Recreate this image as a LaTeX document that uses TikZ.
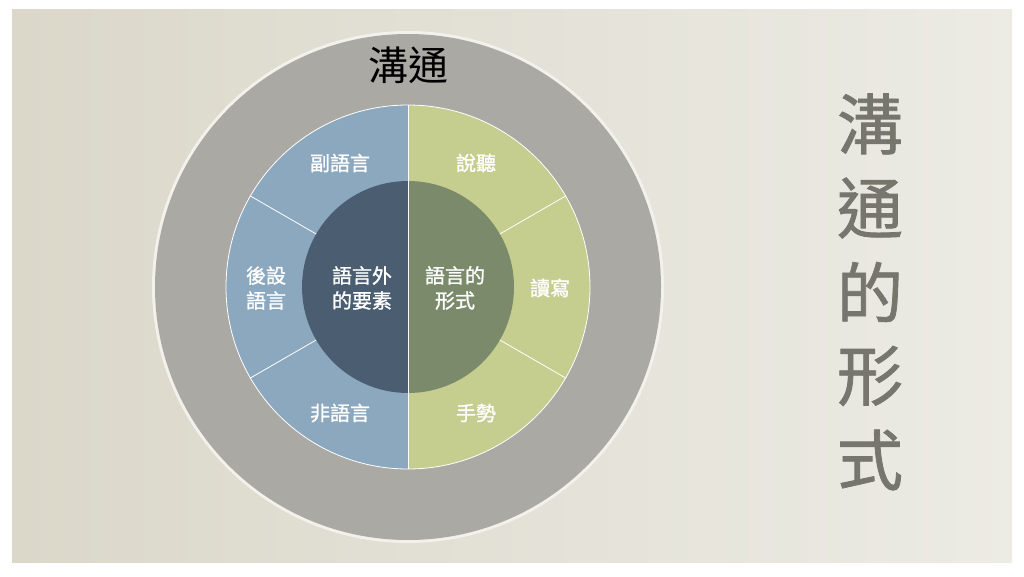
\documentclass[tikz,border=0pt]{standalone}
\usepackage{fontspec}
\newfontfamily\cjk{Noto Sans CJK TC}
\newfontfamily\cjkheavy[FakeBold=1.2]{Noto Sans CJK TC}
\usetikzlibrary{positioning}

\definecolor{paperdark}{RGB}{219,216,202}
\definecolor{paperlight}{RGB}{236,235,228}
\definecolor{rimwhite}{RGB}{242,241,236}
\definecolor{ringgray}{RGB}{170,169,164}
\definecolor{ringblue}{RGB}{139,168,190}
\definecolor{ringgreen}{RGB}{197,205,143}
\definecolor{coreblue}{RGB}{75,93,112}
\definecolor{coregreen}{RGB}{122,138,106}
\definecolor{titlegray}{RGB}{119,118,108}

\begin{document}
\begin{tikzpicture}[x=1pt, y=1pt, node distance=84pt, inner sep=0pt,
    seg/.style={white, line width=0.8pt},
    lab/.style={text=white, align=center, font=\cjkheavy\fontsize{20}{25}\selectfont},
    title/.style={text=titlegray, font=\cjkheavy\fontsize{66}{66}\selectfont}]
        \useasboundingbox (0,0) rectangle (1024,576);
        \fill[white] (0,0) rectangle (1024,576);
        \shade[left color=paperdark, right color=paperlight] (12,14) rectangle (1012,566);

        \coordinate (c) at (408,289);

        % Outer circle
        \fill[rimwhite] (c) circle[radius=256];
        \fill[ringgray] (c) circle[radius=253];

        % Ring halves and core halves
        \fill[ringblue] (c) -- ++(90:182) arc[start angle=90, end angle=270, radius=182] -- cycle;
        \fill[ringgreen] (c) -- ++(-90:182) arc[start angle=-90, end angle=90, radius=182] -- cycle;
        \fill[coreblue] (c) -- ++(90:106) arc[start angle=90, end angle=270, radius=106] -- cycle;
        \fill[coregreen] (c) -- ++(-90:106) arc[start angle=-90, end angle=90, radius=106] -- cycle;

        % Draw dividers
        \draw[seg] (c) circle[radius=182];
        \draw[seg] (c) ++(0,182) -- ++(0,-364);
        \foreach \a in {30,150,210,330}
            \draw[seg] (c) ++(\a:106) -- ++(\a:76);

        \node[font=\cjk\fontsize{40}{40}\selectfont] (top) at (408,511) {溝通};

        \node[lab] (para) at (340,413) {副語言};
        \node[lab] (meta) at (266,288) {後設\\語言};
        \node[lab] (nonv) at (340,163) {非語言};
        \node[lab] (lstn) at (476,413) {說聽};
        \node[lab] (rdwr) at (550,288) {讀寫};
        \node[lab] (gest) at (476,163) {手勢};

        \node[lab] (extra) at (362,288) {語言外\\的要素};
        \node[lab] (form) at (455,288) {語言的\\形式};

        % Vertical title
        \node[title] (t1) at (870,452) {溝};
        \node[title, below of=t1] (t2) {通};
        \node[title, below of=t2] (t3) {的};
        \node[title, below of=t3] (t4) {形};
        \node[title, below of=t4] (t5) {式};
\end{tikzpicture}
\end{document}
